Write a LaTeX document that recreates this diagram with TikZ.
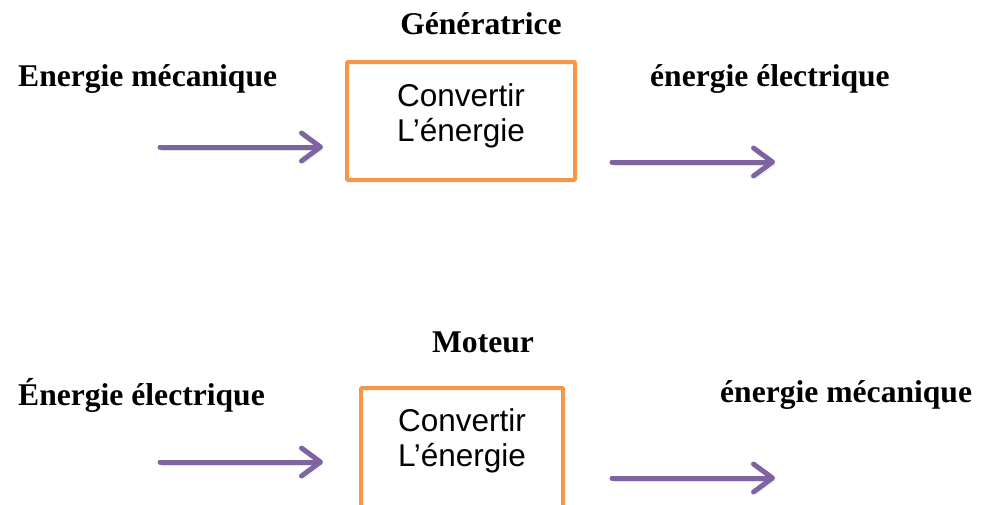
\documentclass[tikz,border=0pt]{standalone}
\usepackage{fontspec}
\setmainfont{Liberation Serif}
\setsansfont{Liberation Sans}
\usetikzlibrary{arrows.meta}
\definecolor{boxorange}{HTML}{F79646}
\definecolor{flechepurple}{HTML}{8064A2}
\tikzset{
    titre/.style={font=\bfseries\fontsize{31.6}{36}\selectfont, inner sep=0pt},
    convbox/.style={draw=boxorange, line width=4pt, rounded corners=1pt, align=center,
        font=\sffamily\fontsize{31.5}{35}\selectfont},
    fleche/.style={draw=flechepurple, line width=5pt, line cap=round,
        -{Straight Barb[length=19pt, width=28pt, round]},
        preaction={draw=black!12, transform canvas={shift={(2pt,-3pt)}}}}
}
\begin{document}
\begin{tikzpicture}[x=1pt, y=-1pt]
                \useasboundingbox (0,0) rectangle (984,504);
                \clip (0,0) rectangle (984,504);
                % generatrice
                \node[titre] (gen) at (481,24) {Génératrice};
                \node[titre, anchor=west] (emeca) at (18,79) {Energie mécanique};
                \node[titre, anchor=west] (eelec) at (650,79) {énergie électrique};
                \node[convbox, minimum width=228, minimum height=118] (conv1) at (461,121) {};
                \node[font=\sffamily\fontsize{31.5}{35}\selectfont, align=center] (txt1) at (461,116)
                    {Convertir\\L’énergie};
                \coordinate (in1) at (160,147);
                \coordinate (out1) at (775,162);
                \draw[fleche] (in1) -- ([xshift=-22pt]in1 -| conv1.west);
                \draw[fleche] ([xshift=35pt]out1 -| conv1.east) -- (out1);
                % moteur
                \node[titre] (mot) at (483,342) {Moteur};
                \node[titre, anchor=west] (eelec2) at (18,395) {Énergie électrique};
                \node[titre, anchor=west] (emeca2) at (720,395) {énergie mécanique};
                \node[convbox, minimum width=202, minimum height=130, anchor=north] (conv2) at (462,386) {};
                \node[font=\sffamily\fontsize{31.5}{35}\selectfont, align=center] (txt2) at (462,441)
                    {Convertir\\L’énergie};
                \coordinate (in2) at (160,462);
                \coordinate (out2) at (775,478);
                \draw[fleche] (in2) -- ([xshift=-36pt]in2 -| conv2.west);
                \draw[fleche] ([xshift=47pt]out2 -| conv2.east) -- (out2);
\end{tikzpicture}
\end{document}
